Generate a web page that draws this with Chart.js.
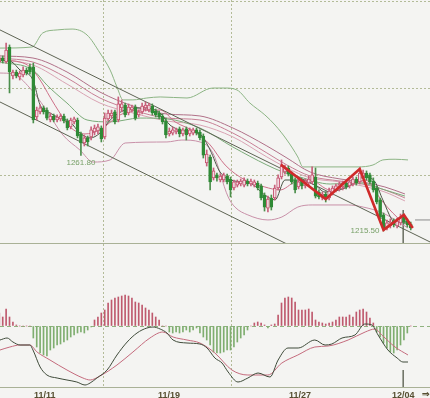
<!DOCTYPE html>
<html><head><meta charset="utf-8">
<script src="https://cdn.jsdelivr.net/npm/chart.js@4/dist/chart.umd.min.js"></script>
<style>
html,body{margin:0;padding:0;background:#f4f4f2;}
#wrap{position:relative;width:430px;height:398px;overflow:hidden;background:#f4f4f2;}
.box{position:absolute;left:0;width:430px;}
</style></head><body>
<div id="wrap">
<div class="box" style="top:0;height:244px"><canvas id="c1" width="430" height="244"></canvas></div>
<div class="box" style="top:244px;height:154px"><canvas id="c2" width="430" height="154"></canvas></div>
</div>
<script>
// ---- axis / ticks ----
const tickPos = [12.46, 49.0, 87.55, 117.9];
const tickLabels = ['11/11', '11/19', '11/27', '12/04'];
const gridPrices = [1250, 1300, 1350];

// ---- candles (bar index 0..121) ----
const open = [1315.3,1317.6,1315.3,1323.9,1307.3,1309.6,1306.7,1307.9,1310.7,1312.5,
1312.5,1283.8,1286.7,1289.0,1287.8,1282.1,1284.4,1282.1,1282.7,1284.4,
1281.5,1278.1,1281.0,1282.1,1274.1,1268.9,1271.8,1272.4,1275.2,1275.8,
1277.5,1272.4,1282.7,1284.4,1286.7,1282.1,1289.0,1290.7,1286.1,1287.8,
1289.5,1285.0,1286.7,1289.0,1287.8,1290.1,1287.2,1286.1,1284.4,1281.5,
1274.1,1274.6,1275.2,1277.0,1274.1,1277.0,1274.1,1274.6,1276.4,1275.2,
1272.9,1257.5,1260.9,1248.9,1250.6,1247.7,1247.7,1250.0,1248.3,1243.1,
1244.8,1245.4,1244.8,1247.1,1245.4,1244.8,1246.0,1244.3,1239.1,1231.6,
1237.4,1237.4,1243.1,1249.4,1252.3,1254.6,1251.1,1247.7,1243.7,1247.1,
1244.3,1246.0,1246.6,1249.4,1240.8,1237.4,1239.7,1237.4,1240.3,1242.0,
1242.6,1243.7,1246.0,1244.3,1245.4,1248.3,1246.6,1249.4,1251.7,1250.6,
1247.1,1243.1,1236.3,1227.7,1220.2,1221.4,1224.2,1221.4,1223.1,1226.5,
1224.2,1222.5];
const high = [1319.3,1318.8,1326.2,1325.1,1310.7,1310.7,1310.2,1312.5,1311.9,1314.2,
1314.7,1289.5,1290.7,1290.1,1289.0,1286.1,1285.5,1285.0,1285.5,1285.5,
1282.7,1283.2,1283.8,1283.2,1275.2,1273.5,1272.9,1278.1,1279.2,1279.8,
1278.7,1286.1,1287.8,1287.8,1287.8,1295.3,1293.6,1291.8,1291.3,1290.7,
1290.7,1287.8,1291.8,1292.4,1291.8,1291.3,1288.4,1287.2,1285.5,1283.2,
1277.5,1278.1,1277.5,1278.1,1277.5,1278.1,1277.5,1277.5,1277.5,1276.4,
1274.1,1264.9,1262.0,1254.6,1251.7,1251.1,1251.7,1251.1,1249.4,1247.7,
1247.7,1248.3,1248.9,1248.3,1248.3,1247.7,1247.1,1245.4,1240.3,1238.5,
1239.1,1244.8,1250.6,1259.2,1256.3,1255.7,1252.3,1248.9,1247.7,1248.3,
1248.3,1250.0,1255.2,1254.6,1242.0,1240.8,1240.8,1243.1,1244.3,1245.4,
1246.6,1247.1,1247.1,1247.7,1249.4,1249.4,1254.6,1253.4,1252.9,1251.7,
1248.9,1244.3,1237.4,1228.8,1224.8,1225.4,1225.4,1225.9,1228.2,1227.7,
1225.4,1223.6];
const low = [1314.2,1314.7,1314.7,1297.6,1305.6,1306.2,1305.0,1306.7,1307.9,1308.4,
1280.4,1282.1,1285.5,1285.5,1282.1,1281.0,1281.0,1281.0,1281.5,1280.4,
1276.4,1277.0,1279.8,1271.8,1261.8,1267.2,1267.2,1270.6,1273.5,1274.1,
1269.5,1271.2,1281.5,1283.2,1279.8,1281.0,1286.7,1283.8,1285.0,1286.7,
1282.1,1283.8,1285.5,1287.2,1286.7,1285.0,1283.8,1282.7,1279.8,1271.8,
1272.9,1273.5,1274.1,1272.4,1272.9,1270.6,1272.9,1273.5,1273.5,1270.6,
1260.3,1255.7,1242.0,1247.7,1247.1,1246.6,1246.6,1245.4,1238.0,1242.0,
1243.7,1244.3,1243.7,1244.3,1244.3,1243.7,1242.0,1236.3,1229.9,1229.4,
1230.5,1236.3,1242.0,1248.3,1251.1,1250.0,1245.4,1240.3,1242.6,1242.6,
1243.1,1244.8,1245.4,1237.4,1236.8,1236.3,1235.1,1236.3,1239.1,1240.8,
1241.4,1242.0,1242.6,1243.1,1244.3,1244.8,1245.4,1248.3,1247.7,1245.4,
1240.8,1234.0,1225.4,1218.5,1219.1,1220.2,1220.8,1220.2,1221.9,1222.5,
1220.8,1219.1];
const close = [1317.6,1315.9,1322.2,1309.6,1309.6,1307.3,1309.0,1310.7,1309.0,1309.6,
1282.1,1287.8,1289.0,1286.7,1283.2,1284.4,1282.1,1283.8,1284.4,1281.5,
1277.5,1282.1,1282.7,1272.9,1268.9,1271.8,1269.5,1276.4,1277.5,1278.1,
1271.2,1283.2,1286.1,1286.1,1281.0,1291.3,1291.3,1285.0,1289.5,1289.5,
1283.2,1286.7,1290.1,1290.7,1290.7,1286.1,1285.0,1283.8,1281.0,1273.5,
1275.8,1276.4,1276.4,1274.1,1276.4,1273.5,1276.4,1276.4,1274.6,1271.8,
1262.0,1262.6,1246.6,1252.9,1248.9,1250.0,1250.6,1246.6,1242.0,1246.6,
1246.6,1247.1,1247.7,1245.4,1247.1,1246.6,1243.1,1237.4,1232.2,1236.8,
1232.2,1243.1,1248.9,1255.7,1254.6,1251.1,1246.6,1242.0,1246.6,1244.3,
1247.1,1248.3,1250.6,1238.5,1238.0,1239.7,1236.8,1241.4,1243.1,1244.3,
1245.4,1246.0,1243.7,1246.6,1248.3,1246.0,1251.7,1251.7,1248.9,1246.6,
1242.0,1235.1,1226.5,1220.2,1223.1,1223.6,1221.9,1224.2,1226.5,1223.6,
1221.9,1220.2];

// ---- overlays: [bar index, price] ----
const bbUpper = [[0.2,1323.3],[9.6,1323.9],[12.8,1332.0],[17,1333.7],[21.4,1334.2],[25.8,1330.8],[29.6,1320.5],[32.6,1310.7],[34.6,1301.0],[36.4,1293.6],[39.3,1293.6],[43.4,1294.7],[47.3,1295.3],[55.2,1294.7],[62.8,1300.4],[66.4,1300.4],[69.9,1299.3],[73.7,1291.8],[78.1,1285.0],[81.1,1279.2],[84.6,1270.6],[87.8,1260.9],[89.3,1255.2],[92.8,1255.2],[105.5,1255.2],[109.9,1256.3],[112.8,1259.2],[116.4,1259.6],[120.2,1259.2]];
const bbLower = [[0.2,1309.0],[4.0,1308.5],[9.0,1300.4],[13.4,1289.0],[18.7,1273.5],[23.7,1264.9],[27.6,1258.0],[32.6,1259.2],[37.0,1268.9],[49.3,1269.5],[53.7,1270.6],[59.0,1269.5],[62.8,1263.2],[67.3,1238.0],[69.3,1232.2],[73.1,1227.7],[79.0,1224.8],[83.1,1226.5],[87.8,1232.2],[92.0,1233.4],[102.6,1233.4],[107.0,1232.2],[112.8,1228.8],[120.2,1220.2]];
const maSlow1 = [[0.2,1317.6],[9.9,1315.3],[19.9,1306.2],[29.6,1294.7],[39.3,1287.8],[49.3,1283.2],[59.0,1282.1],[68.7,1274.6],[78.7,1263.2],[84.6,1256.3],[91.4,1250.0],[100.2,1247.1],[106.7,1245.4],[113.4,1242.0],[119.3,1237.4]];
const maSlow2 = [[0.2,1316.5],[9.9,1313.6],[19.9,1302.7],[29.6,1291.8],[39.3,1286.1],[49.3,1281.5],[59.0,1279.2],[68.7,1272.4],[78.7,1260.9],[84.6,1254.6],[91.4,1248.9],[100.2,1246.6],[106.7,1244.3],[113.4,1240.8],[119.3,1235.7]];
const maSlow3 = [[0.2,1318.8],[9.9,1317.6],[19.9,1309.6],[29.6,1298.1],[39.3,1290.1],[49.3,1285.5],[59.0,1284.4],[68.7,1277.5],[78.7,1267.2],[84.6,1260.3],[91.4,1252.3],[100.2,1248.3],[106.7,1246.6],[113.4,1243.7],[119.3,1239.7]];
const maMid = [[0.2,1315.3],[9.9,1310.7],[14.0,1302.1],[19.9,1291.8],[25.8,1282.1],[32.6,1281.0],[41.4,1283.2],[49.3,1282.7],[59.0,1277.5],[68.7,1266.6],[78.7,1256.3],[83.4,1252.3],[88.4,1249.4],[97.3,1245.4],[106.1,1246.0],[113.4,1242.0],[119.3,1238.5]];
const maShort = [[0.2,1316.5],[6.1,1315.3],[9.0,1312.5],[12.0,1305.0],[14.9,1295.3],[17.8,1286.1],[20.8,1278.1],[25.2,1274.1],[29.6,1276.4],[35.5,1285.0],[41.4,1287.8],[47.3,1287.8],[51.7,1281.0],[57.6,1275.2],[62.0,1267.8],[66.4,1256.3],[72.3,1247.7],[78.1,1243.7],[82.6,1242.0],[87.0,1246.6],[91.4,1247.7],[97.3,1242.0],[103.1,1244.3],[107.6,1247.7],[112.8,1235.1],[118.7,1223.6],[120.8,1221.9]];
const maFast = [[0.2,1316.5],[3.7,1315.3],[6.1,1310.7],[9.9,1305.0],[12.0,1290.7],[14.9,1286.1],[17.8,1283.2],[20.8,1281.0],[23.7,1274.6],[26.7,1271.8],[29.6,1274.6],[32.6,1282.1],[37.0,1287.8],[42.8,1289.0],[47.3,1286.1],[50.2,1279.2],[54.6,1275.8],[59.0,1274.1],[62.0,1264.9],[64.9,1252.3],[69.3,1247.1],[73.7,1246.0],[78.1,1239.1],[81.1,1236.3],[84.0,1247.7],[88.4,1247.7],[92.8,1244.8],[95.8,1240.8],[101.7,1243.1],[107.6,1249.4],[110.5,1246.6],[112.8,1236.3],[116.4,1223.6],[120.8,1223.6]];
const channelUpper = [[0.2,1333.7],[126.67,1212.2]];
const channelLower = [[0.2,1292.4],[90,1205.8]];
const zigzag = [[82.8,1256.5],[96,1236.8],[106,1254.0],[113,1219.1],[119,1227.7],[121.6,1220.2]];
const lowLabelIdx = [24, 113];
const lowLabelText = ['1261.80', '1215.50'];
const dayMarker = 118.8;
const markerPrice = [1230.5, 1211.6];
const lastPrice = 1224.8;

// ---- MACD ----
const histogram = [2.6,1.8,3.4,1.8,0.8,0.2,0,0,0,0,
-2.4,-4.2,-5.4,-5.8,-6.0,-4.8,-4.4,-3.8,-3.6,-3.2,
-2.8,-2.2,-1.8,-1.4,-1.2,-1.4,-0.8,-0.2,
1.2,1.8,2.6,3.2,4.6,5.2,5.6,5.8,6.0,6.2,6.0,5.6,4.8,4.6,4.2,3.6,3.2,2.6,1.8,1.2,
0,0,
-1.2,-1.4,-1.2,-1.4,-1.2,-0.8,-1.2,-0.8,-0.4,-1.4,-2.2,-2.8,-3.8,
-5.2,-5.4,-5.4,-5.2,-4.8,-4.8,-4.2,-3.2,-2.4,-1.8,-0.8,
0,0.6,0.8,0.6,0.2,-0.4,0.2,0.4,
2.2,4.6,5.6,5.8,5.6,4.8,3.2,3.2,3.2,3.4,2.8,1.2,0.8,0.6,0.4,0.6,0.8,1.2,1.8,1.8,1.8,2.2,1.8,2.8,3.2,3.4,2.8,1.6,0.6,
-1.2,-2.2,-3.4,-4.4,-5.2,-5.4,-4.8,-3.8,-2.8,-1.4,0];
const macdLine = [[0.2,-2.8],[2.3,-2.4],[4.0,-3.2],[6.1,-3.8],[9.0,-3.8],[9.9,-4.8],[12.0,-8.2],[14.0,-9.8],[17.0,-10.4],[19.9,-10.8],[22.8,-11.2],[25.2,-11.8],[26.7,-11.4],[28.7,-10.4],[31.7,-8.8],[34.6,-5.8],[37.6,-3.2],[40.5,-1.4],[43.4,-0.4],[45.2,-0.2],[47.3,-0.6],[49.3,-1.4],[51.1,-2.8],[55.2,-3.4],[59.0,-3.6],[61.1,-4.4],[63.4,-6.4],[65.5,-7.4],[67.3,-9.2],[70.2,-11.2],[73.1,-10.4],[76.1,-9.4],[79.6,-10.2],[82.0,-6.8],[84.9,-4.4],[87.9,-4.4],[92.8,-2.8],[95.8,-3.8],[97.8,-3.6],[100.8,-2.4],[104.6,-1.8],[107.5,0.4],[109.6,0.2],[111.4,-1.8],[114.3,-4.8],[117.0,-6.4],[118.7,-7.2],[120.2,-7.2]];
const signalLine = [[0.2,-4.8],[3.1,-4.2],[6.1,-3.8],[9.0,-3.8],[11.1,-5.2],[14.9,-6.8],[19.9,-8.8],[24.6,-10.4],[26.7,-10.8],[29.6,-10.0],[34.6,-7.8],[39.3,-5.2],[44.3,-2.4],[48.1,-1.2],[51.1,-2.2],[55.2,-2.8],[59.0,-3.4],[63.4,-5.4],[68.4,-8.8],[73.1,-9.8],[79.0,-9.8],[83.1,-7.4],[87.8,-5.8],[92.8,-4.2],[96.7,-4.0],[102.6,-2.8],[107.6,-1.2],[110.5,-0.6],[112.5,-1.8],[116.4,-4.2],[120.2,-5.8]];
const macdMarker = [-8.8, -12.2];

// ---- styling ----
const GRID = '#b3bb98';
const X_MIN = 0.2, X_MAX = 126.67;
const pts = a => a.map(([x, y]) => ({x, y}));
const isUp = i => close[i] >= open[i];

function xAxis() {
  return {
    type: 'linear', min: X_MIN, max: X_MAX, offset: false,
    afterBuildTicks: s => { s.ticks = tickPos.map(v => ({value: v})); },
    ticks: {display: false},
    grid: {drawTicks: false, lineWidth: 1,
      color: c => (c.tick && c.tick.value === tickPos[3]) ? 'rgba(0,0,0,0)' : GRID},
    border: {display: true, color: '#a9b196', width: 1, dash: [2, 2]}
  };
}
function line(data, color, order, width, extra) {
  return Object.assign({type: 'line', data: pts(data), borderColor: color, borderWidth: width || 1,
    pointRadius: 0, cubicInterpolationMode: 'monotone', fill: false, order: order}, extra || {});
}

const idx = open.map((_, i) => i);

const labelPlugin = {
  id: 'lowLabels',
  afterDatasetsDraw(chart) {
    const {ctx, scales: {x, y}} = chart;
    ctx.save();
    ctx.font = '8px "Liberation Sans Narrow", "Liberation Sans", sans-serif';
    ctx.fillStyle = '#78a068';
    // first: centered below the low
    let i = lowLabelIdx[0];
    ctx.textAlign = 'center'; ctx.textBaseline = 'top';
    ctx.fillText(lowLabelText[0], x.getPixelForValue(i), y.getPixelForValue(low[i]) + 3);
    // second: to the left of the low
    i = lowLabelIdx[1];
    ctx.textAlign = 'right'; ctx.textBaseline = 'middle';
    ctx.fillText(lowLabelText[1], x.getPixelForValue(i) - 4, y.getPixelForValue(low[i]));
    ctx.restore();
  }
};

new Chart(document.getElementById('c1'), {
  type: 'line',
  data: {
    datasets: [
      line(zigzag, '#cf2a2a', 0, 2.6, {cubicInterpolationMode: 'default', tension: 0}),
      {type: 'bar', order: 1, grouped: false, maxBarThickness: 3, barPercentage: 1, categoryPercentage: 1,
        data: idx.map(i => ({x: i, y: [open[i], close[i]]})),
        backgroundColor: c => isUp(c.dataIndex) ? '#f4dfe5' : '#2f8a36',
        borderColor: c => isUp(c.dataIndex) ? '#c4506c' : '#2f8a36',
        borderWidth: 1, borderSkipped: false, minBarLength: 1},
      {type: 'bar', order: 2, grouped: false, maxBarThickness: 1, barPercentage: 1, categoryPercentage: 1,
        data: idx.map(i => ({x: i, y: [low[i], high[i]]})),
        backgroundColor: c => isUp(c.dataIndex) ? '#c8607c' : '#4c8f4c', borderWidth: 0},
      line(channelUpper, '#5d6353', 3, 1, {cubicInterpolationMode: 'default', tension: 0}),
      line(channelLower, '#5d6353', 3, 1, {cubicInterpolationMode: 'default', tension: 0}),
      line(maFast, '#4a5444', 4),
      line(maShort, '#cc7088', 5),
      line(maMid, '#7aaa78', 6),
      line(maSlow1, '#c77f95', 7),
      line(maSlow2, '#d9a3b3', 7),
      line(maSlow3, '#b07088', 7),
      line(bbUpper, '#8cb484', 8),
      line(bbLower, '#c890a8', 8),
      line([[dayMarker, markerPrice[0]], [dayMarker, markerPrice[1]]], '#707468', 9, 1, {cubicInterpolationMode: 'default', tension: 0}),
      line([[X_MAX - 4.4, lastPrice], [X_MAX, lastPrice]], '#8a8a8a', 9, 1, {cubicInterpolationMode: 'default', tension: 0})
    ]
  },
  options: {
    responsive: false, animation: false, devicePixelRatio: 1,
    layout: {padding: {left: 0, right: 0, top: 0, bottom: 1}, autoPadding: false},
    plugins: {legend: {display: false}, tooltip: {enabled: false}},
    scales: {
      x: xAxis(),
      y: {type: 'linear', min: 1211.6, max: 1350.85,
        afterBuildTicks: s => { s.ticks = gridPrices.map(v => ({value: v})); },
        ticks: {display: false},
        grid: {drawTicks: false, color: GRID, lineWidth: 1},
        border: {display: false, dash: [2, 2]}}
    }
  },
  plugins: [labelPlugin]
});

const axisLabelPlugin = {
  id: 'axisLabels',
  afterDraw(chart) {
    const {ctx, chartArea, scales: {x}} = chart;
    ctx.save();
    ctx.font = 'bold 9px "Liberation Sans", Arial, sans-serif';
    ctx.fillStyle = '#564e30';
    ctx.textAlign = 'center'; ctx.textBaseline = 'top';
    tickPos.forEach((v, k) => ctx.fillText(tickLabels[k], x.getPixelForValue(v) + 3, chartArea.bottom + 4));
    ctx.textAlign = 'right';
    ctx.fillText('⇒', chartArea.right, chartArea.bottom + 3);
    ctx.restore();
  }
};

new Chart(document.getElementById('c2'), {
  type: 'line',
  data: {
    datasets: [
      line(macdLine, '#3f4b3a', 0),
      line(signalLine, '#c46a7c', 1),
      {type: 'bar', order: 2, grouped: false, maxBarThickness: 1, barPercentage: 1, categoryPercentage: 1,
        data: idx.map(i => ({x: i, y: histogram[i]})),
        backgroundColor: c => histogram[c.dataIndex] >= 0 ? '#bf5a6e' : '#7fae70', borderWidth: 0},
      line([[dayMarker, macdMarker[0]], [dayMarker, macdMarker[1]]], '#707468', 3, 1, {cubicInterpolationMode: 'default', tension: 0})
    ]
  },
  options: {
    responsive: false, animation: false, devicePixelRatio: 1,
    layout: {padding: {left: 0, right: 0, top: 0, bottom: 11}, autoPadding: false},
    plugins: {legend: {display: false}, tooltip: {enabled: false}},
    scales: {
      x: xAxis(),
      y: {type: 'linear', min: -12.2, max: 16.4,
        afterBuildTicks: s => { s.ticks = [{value: 0}]; },
        ticks: {display: false},
        grid: {drawTicks: false, color: '#8fb27f', lineWidth: 1},
        border: {display: false, dash: [4, 3]}}
    }
  },
  plugins: [axisLabelPlugin]
});
</script>
</body></html>
